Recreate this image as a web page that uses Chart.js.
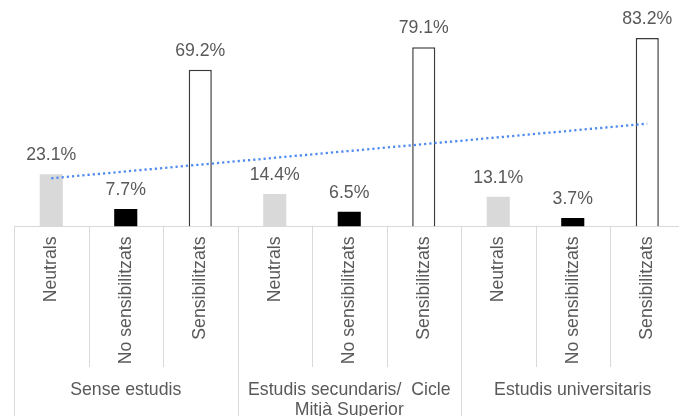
<!DOCTYPE html>
<html>
<head>
<meta charset="utf-8">
<script src="https://cdn.jsdelivr.net/npm/chart.js@4"></script>
<style>
  html, body { margin: 0; padding: 0; background: #fff; overflow: hidden; }
  #wrap { width: 679px; height: 416px; overflow: hidden; }
  canvas { display: block; }
</style>
</head>
<body>
<div id="wrap"><canvas id="chart" width="700" height="416"></canvas></div>
<script>
// Response types repeated inside each education level
const responseTypes = ['Neutrals', 'No sensibilitzats', 'Sensibilitzats'];
// Education levels (three bars each)
const educationLevels = ['Sense estudis', ['Estudis secundaris/  Cicle', 'Mitjà Superior'], 'Estudis universitaris'];
// Share of respondents (%) per bar, in level order
const shares = [23.1, 7.7, 69.2, 14.4, 6.5, 79.1, 13.1, 3.7, 83.2];
// Linear trend line, start and end values (%)
const trendStart = 21.3;
const trendEnd = 45.4;

const barLabels = educationLevels.flatMap(() => responseTypes);
const fills = { 'Neutrals': '#d9d9d9', 'No sensibilitzats': '#000000', 'Sensibilitzats': '#ffffff' };
const edges = { 'Neutrals': '#d9d9d9', 'No sensibilitzats': '#000000', 'Sensibilitzats': '#3a3a3a' };
const trend = barLabels.map((_, i) => i === 0 ? trendStart : (i === barLabels.length - 1 ? trendEnd : null));

const FONT = '"Liberation Sans", Arial, sans-serif';
const SIZE = 17.7;
const TEXT = '#595959';
const RULE = '#d9d9d9';

// Value labels above each bar
const valueLabels = {
  id: 'valueLabels',
  afterDatasetsDraw(chart) {
    const meta = chart.getDatasetMeta(1);
    const ctx = chart.ctx;
    ctx.save();
    ctx.font = SIZE + 'px ' + FONT;
    ctx.fillStyle = TEXT;
    ctx.textAlign = 'center';
    ctx.textBaseline = 'middle';
    meta.data.forEach((bar, i) => {
      ctx.fillText(shares[i].toFixed(1) + '%', bar.x, bar.y - 19);
    });
    ctx.restore();
  }
};

// Vertical separators of the two-level category axis
const axisDividers = {
  id: 'axisDividers',
  afterDraw(chart) {
    const x = chart.scales.x;
    const ctx = chart.ctx;
    const top = chart.chartArea.bottom;
    const n = barLabels.length;
    const step = x.getPixelForValue(1) - x.getPixelForValue(0);
    ctx.save();
    ctx.strokeStyle = RULE;
    ctx.lineWidth = 1;
    for (let i = 0; i <= n; i++) {
      const px = Math.round(x.getPixelForValue(0) - step / 2 + i * step) + 0.5;
      const bottom = (i % responseTypes.length === 0) ? chart.height : top + 140.5;
      ctx.beginPath();
      ctx.moveTo(px, top);
      ctx.lineTo(px, bottom);
      ctx.stroke();
    }
    ctx.restore();
  }
};

new Chart(document.getElementById('chart'), {
  data: {
    labels: barLabels,
    datasets: [
      {
        type: 'line',
        data: trend,
        spanGaps: true,
        borderColor: '#4d8af0',
        borderWidth: 2.3,
        borderDash: [2.2, 3],
        pointRadius: 0,
        fill: false,
        order: 0
      },
      {
        type: 'bar',
        data: shares,
        backgroundColor: barLabels.map(l => fills[l]),
        borderColor: barLabels.map(l => edges[l]),
        borderWidth: barLabels.map(l => l === 'Sensibilitzats' ? 1.5 : 0),
        barPercentage: 0.31,
        categoryPercentage: 1,
        order: 1
      }
    ]
  },
  options: {
    responsive: false,
    animation: false,
    layout: { padding: { left: 14, right: 15.5, top: 0, bottom: 0 } },
    plugins: { legend: { display: false }, tooltip: { enabled: false } },
    scales: {
      y: { display: false, min: 0, max: 100 },
      x: {
        position: 'bottom',
        offset: true,
        grid: { display: false, drawTicks: false },
        border: { display: true, color: RULE, width: 1 },
        ticks: {
          autoSkip: false,
          minRotation: 90,
          maxRotation: 90,
          padding: 10,
          color: TEXT,
          font: { family: FONT, size: SIZE }
        },
        afterFit(scale) { scale.height = 150; }
      },
      groups: {
        type: 'category',
        position: 'bottom',
        labels: educationLevels,
        offset: true,
        grid: { display: false, drawTicks: false },
        border: { display: false },
        ticks: {
          autoSkip: false,
          maxRotation: 0,
          padding: 4,
          color: TEXT,
          font: { family: FONT, size: SIZE, lineHeight: 1.13 }
        },
        afterFit(scale) { scale.height = 39.5; }
      }
    }
  },
  plugins: [valueLabels, axisDividers]
});
</script>
</body>
</html>
